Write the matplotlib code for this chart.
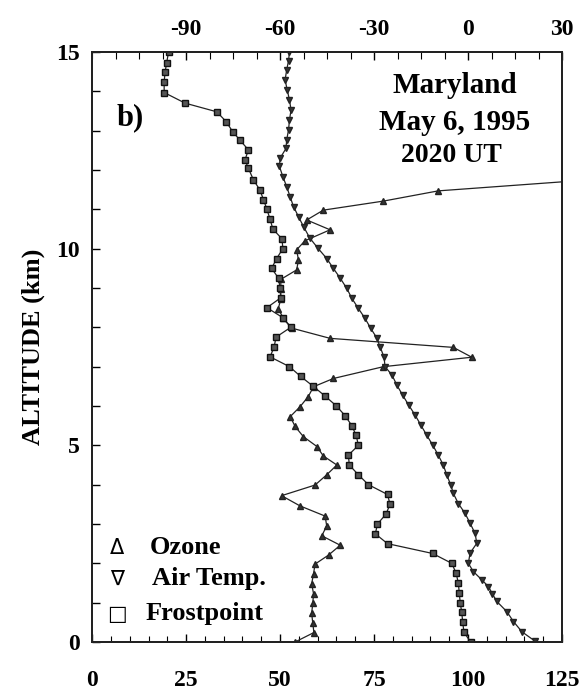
import numpy as np
import matplotlib
matplotlib.use('Agg')
import matplotlib.pyplot as plt
from matplotlib.ticker import MultipleLocator

plt.rcParams['font.family'] = ['Liberation Serif', 'DejaVu Sans']
plt.rcParams['font.weight'] = 'bold'
plt.rcParams['axes.labelweight'] = 'bold'
plt.rcParams['axes.unicode_minus'] = False

# ozone (bottom axis, 0-125)
oz_alt = [0.0, 0.24, 0.48, 0.73, 0.98, 1.23, 1.48, 1.73, 1.98, 2.21, 2.46, 2.7, 2.95,
          3.2, 3.46, 3.72, 3.99, 4.25, 4.5, 4.73, 4.97, 5.22, 5.48, 5.73, 5.98, 6.24,
          6.49, 6.7, 7.0, 7.24, 7.49, 7.72, 7.98, 8.23, 8.47, 8.72, 8.97, 9.22, 9.46,
          9.71, 9.97, 10.2, 10.48, 10.73, 10.98, 11.21, 11.47, 11.72]
oz_val = [54.0, 59.0, 58.7, 58.4, 58.7, 58.9, 58.4, 58.9, 59.3, 62.9, 66.0, 61.1, 62.4,
          62.0, 55.3, 50.4, 59.3, 62.4, 65.1, 61.5, 59.8, 56.2, 54.0, 52.7, 55.3, 57.5,
          58.9, 64.2, 77.5, 101.0, 96.1, 63.3, 53.1, 50.9, 49.5, 50.2, 50.2, 50.2, 54.4,
          54.9, 54.4, 56.6, 63.3, 57.1, 61.5, 77.5, 92.1, 128.0]

# air temperature (top axis, deg C)
t_alt = [0.02, 0.26, 0.52, 0.77, 1.03, 1.22, 1.41, 1.58, 1.79, 2.0, 2.26, 2.51, 2.76,
         3.02, 3.27, 3.52, 3.78, 3.99, 4.25, 4.5, 4.75, 5.01, 5.26, 5.52, 5.77, 6.03,
         6.28, 6.53, 6.79, 7.0, 7.24, 7.51, 7.74, 7.98, 8.23, 8.48, 8.74, 8.99, 9.25,
         9.5, 9.75, 10.02, 10.27, 10.56, 10.81, 11.07, 11.32, 11.58, 11.83, 12.09,
         12.3, 12.55, 12.76, 13.02, 13.27, 13.53, 13.78, 14.03, 14.29, 14.54, 14.78, 15.0]
t_val = [21.4, 17.2, 14.5, 12.4, 9.2, 7.8, 6.5, 4.4, 1.7, 0.1, 0.65, 2.8, 2.25,
         0.65, -0.95, -3.1, -4.7, -5.5, -6.8, -7.9, -9.5, -11.3, -13.2, -15.1, -16.9, -19.0,
         -20.9, -22.7, -24.3, -26.5, -26.8, -28.1, -29.2, -31.1, -32.9, -35.0, -37.1, -38.7,
         -40.8, -43.0, -45.1, -48.0, -50.5, -52.5, -54.1, -55.7, -56.8, -57.9, -59.1, -60.2,
         -60.0, -58.1, -57.9, -57.3, -57.0, -56.5, -57.0, -57.7, -58.4, -57.9, -57.3, -57.0]

# frostpoint (top axis, deg C)
f_alt = [0.0, 0.25, 0.5, 0.75, 1.0, 1.25, 1.5, 1.75, 2.0, 2.25, 2.5, 2.75, 3.0, 3.25,
         3.5, 3.75, 4.0, 4.25, 4.5, 4.75, 5.0, 5.25, 5.5, 5.75, 6.0, 6.25, 6.5, 6.75,
         7.0, 7.25, 7.5, 7.75, 8.0, 8.25, 8.5, 8.75, 9.0, 9.25, 9.5, 9.75, 10.0, 10.25,
         10.5, 10.75, 11.0, 11.25, 11.5, 11.75, 12.04, 12.26, 12.51, 12.76, 12.97, 13.23,
         13.48, 13.7, 13.97, 14.25, 14.49, 14.73, 15.0]
f_val = [0.8, -1.3, -1.7, -2.0, -2.5, -2.8, -3.1, -3.8, -5.2, -11.3, -25.7, -29.6, -28.9,
         -26.2, -24.9, -25.7, -31.8, -35.0, -37.9, -38.2, -35.0, -35.7, -37.1, -39.2, -42.0,
         -45.6, -49.4, -53.4, -57.0, -63.2, -61.9, -61.3, -56.6, -59.2, -64.2, -59.8, -60.0,
         -60.5, -62.7, -61.1, -59.1, -59.4, -62.3, -63.2, -64.2, -65.3, -66.5, -68.5, -70.1,
         -71.2, -70.1, -72.8, -75.1, -77.2, -80.2, -90.3, -97.0, -97.0, -96.7, -96.2, -95.6]

fig = plt.figure(figsize=(5.83, 6.90), dpi=100)
ax = fig.add_axes([0.158, 0.0696, 0.806, 0.855])
ax2 = ax.twiny()

lc = '#222222'
ax.plot(oz_val, oz_alt, color=lc, lw=0.9, marker='^', ms=4.3, mfc='#333333', mec='#222222')
ax2.plot(t_val, t_alt, color=lc, lw=0.9, marker='v', ms=4.3, mfc='#333333', mec='#222222')
ax2.plot(f_val, f_alt, color=lc, lw=0.9, marker='s', ms=5.0, mfc='#555555', mec='#111111')

ax.set_xlim(0, 125)
ax.set_ylim(0, 15)
ax2.set_xlim(-120, 30)

ax.xaxis.set_major_locator(MultipleLocator(25))
ax.xaxis.set_minor_locator(MultipleLocator(5))
ax.yaxis.set_major_locator(MultipleLocator(5))
ax.yaxis.set_minor_locator(MultipleLocator(1))
ax2.set_xticks([-90, -60, -30, 0, 30])
ax2.xaxis.set_minor_locator(MultipleLocator(7.5))

ax.tick_params(axis='x', which='both', direction='in', top=False, labelsize=17, pad=20)
ax.tick_params(axis='x', which='major', length=6, width=1)
ax.tick_params(axis='x', which='minor', length=4, width=0.8)
ax.tick_params(axis='y', which='both', direction='in', right=False, labelsize=17, pad=9)
ax.tick_params(axis='y', which='major', length=6, width=1)
ax.tick_params(axis='y', which='minor', length=6, width=1)
ax2.tick_params(axis='x', which='both', direction='in', labelsize=17, pad=9)
ax2.tick_params(axis='x', which='major', length=6, width=1)
ax2.tick_params(axis='x', which='minor', length=5, width=0.8)

for a in (ax, ax2):
    for s in a.spines.values():
        s.set_linewidth(1.4)
        s.set_color('#222222')

ax.set_ylabel('ALTITUDE (km)', fontsize=19, labelpad=8)

ax.text(0.772, 0.930, 'Maryland', transform=ax.transAxes, ha='center', va='baseline', fontsize=21)
ax.text(0.772, 0.868, 'May 6, 1995', transform=ax.transAxes, ha='center', va='baseline', fontsize=21)
ax.text(0.765, 0.814, '2020 UT', transform=ax.transAxes, ha='center', va='baseline', fontsize=20)
ax.text(0.053, 0.876, 'b)', transform=ax.transAxes, ha='left', va='baseline', fontsize=22)

sym_kw = dict(transform=ax.transAxes, ha='center', va='baseline', fontsize=15,
              family='DejaVu Sans', weight='normal')
ax.text(0.053, 0.149, '\u0394', **sym_kw)
ax.text(0.053, 0.0966, '\u2207', **sym_kw)
ax.text(0.053, 0.0373, '\u25a1', **sym_kw)
ax.text(0.123, 0.149, 'Ozone', transform=ax.transAxes, ha='left', va='baseline', fontsize=19)
ax.text(0.128, 0.0966, 'Air Temp.', transform=ax.transAxes, ha='left', va='baseline', fontsize=19)
ax.text(0.113, 0.0373, 'Frostpoint', transform=ax.transAxes, ha='left', va='baseline', fontsize=19)

fig.savefig('out.png', dpi=100)
